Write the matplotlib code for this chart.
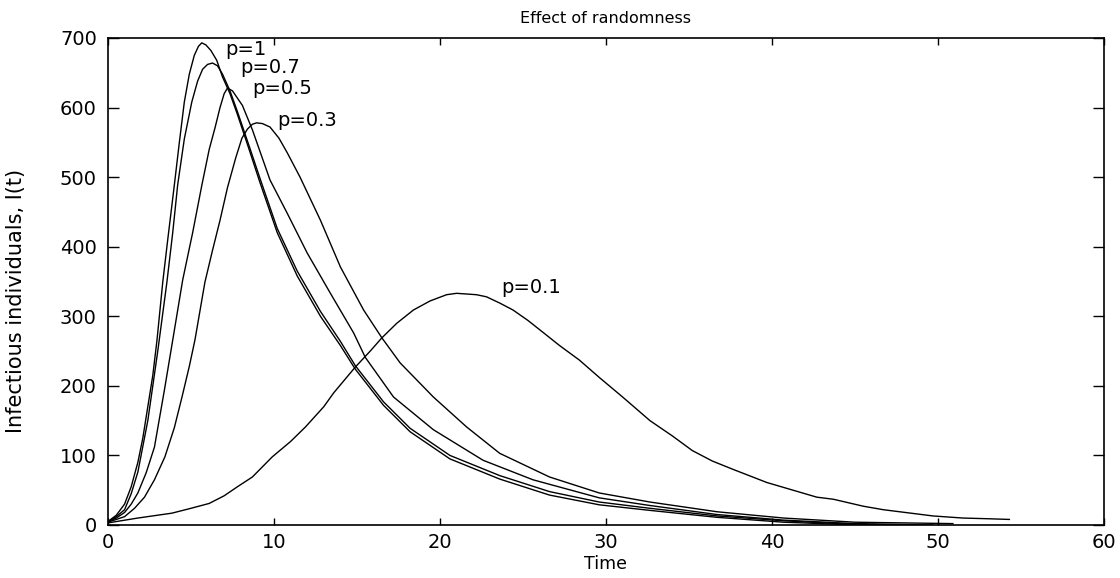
import matplotlib
matplotlib.use('Agg')
import matplotlib.pyplot as plt

# curves, one (t, I) pair of lists per p
t_p1 = [0, 0.5, 1.0, 1.4, 1.8, 2.1, 2.4, 2.7, 2.95, 3.3, 3.6, 4.0, 4.3, 4.6, 4.9,
        5.2, 5.45, 5.65, 5.9, 6.2, 6.55, 6.9, 7.35, 7.8, 8.5, 9.16, 10.2, 11.4,
        12.8, 14.0, 14.9, 16.6, 18.2, 20.6, 23.6, 26.6, 29.6, 32.65, 36.7, 40.7,
        43, 45]
i_p1 = [5, 14, 30, 55, 90, 125, 170, 215, 265, 349, 410, 489, 550, 608, 648,
        675, 688, 693, 690, 682, 668, 644, 620, 590, 540, 492, 420, 358,
        300, 258, 224, 172, 134, 95, 66, 43, 29, 21, 11, 4,
        2, 0]

t_p07 = [0, 0.5, 1.0, 1.4, 1.8, 2.4, 3.0, 3.55, 3.9, 4.2, 4.6, 5.05, 5.4, 5.7,
         6.0, 6.3, 6.6, 6.9, 7.35, 7.8, 8.5, 9.16, 10.2, 11.4, 12.8, 14.0, 14.9,
         16.6, 18.2, 20.6, 23.6, 26.6, 29.6, 32.65, 36.7, 40.7, 44, 47.5]
i_p07 = [5, 12, 22, 45, 76, 150, 250, 349, 420, 489, 555, 608, 638, 655,
         662, 664, 660, 648, 624, 594, 545, 498, 426, 365, 307, 264, 229,
         177, 139, 100, 71, 48, 33, 24, 13, 6, 2, 0]

t_p05 = [0, 0.5, 1.0, 1.4, 1.8, 2.3, 2.8, 3.4, 4.0, 4.5, 5.1, 5.66, 6.1, 6.45,
         6.75, 7.0, 7.2, 7.5, 8.1, 8.7, 9.76, 10.8, 12.0, 13.4, 14.8, 15.5, 17.2,
         19.6, 22.6, 25.6, 29.6, 32.65, 36.7, 40.7, 45, 49.7]
i_p05 = [5, 10, 18, 30, 46, 75, 112, 194, 280, 352, 420, 489, 540, 571,
         600, 620, 628, 624, 603, 568, 496, 448, 391, 333, 276, 241, 184,
         137, 93, 65, 39, 28, 15, 7, 2, 0]

t_p03 = [0, 0.5, 1.0, 1.6, 2.2, 2.8, 3.43, 4.0, 4.46, 4.9, 5.24, 5.84, 6.3, 6.75,
         7.2, 7.7, 8.07, 8.4, 8.7, 8.95, 9.3, 9.76, 10.3, 10.8, 11.57, 12.8, 14.0,
         15.4, 16.5, 17.6, 19.6, 21.6, 23.6, 26.6, 29.6, 32.65, 36.7, 40.7, 45,
         50.9]
i_p03 = [4, 8, 12, 24, 40, 65, 98, 140, 184, 228, 266, 349, 395, 438,
         485, 528, 556, 569, 576, 578, 577, 572, 556, 535, 500, 438, 371,
         309, 269, 233, 184, 141, 103, 69, 46, 33, 19, 10, 4,
         2]

t_p01 = [0, 1.8, 3.85, 5.0, 6.1, 7.0, 7.8, 8.7, 9.9, 11.0, 11.9, 13.0, 13.6,
         14.9, 15.8, 16.5, 17.4, 18.4, 19.4, 20.4, 21.0, 21.6, 22.2, 22.8, 23.6,
         24.4, 25.3, 26.2, 27.2, 28.4, 29.6, 30.2, 31.0, 32.65, 34.0, 35.2, 36.4,
         37.65, 39.7, 40.7, 42.7, 43.7, 45.5, 46.7, 47.7, 49.7, 51.5, 53, 54.3]
i_p01 = [3, 10, 17, 24, 31, 42, 55, 69, 98, 120, 141, 170, 190,
         227, 250, 269, 290, 309, 322, 331, 333, 332, 331, 328, 319,
         309, 294, 277, 258, 237, 212, 200, 184, 150, 128, 107, 92,
         80, 61, 54, 40, 37, 27, 22, 19, 13, 10, 9, 8]

labels = ['p=1', 'p=0.7', 'p=0.5', 'p=0.3', 'p=0.1']
label_x = [7.05, 7.95, 8.67, 10.2, 23.7]
label_y = [683, 657, 627, 582, 342]

xticks = [0, 10, 20, 30, 40, 50, 60]
yticks = [0, 100, 200, 300, 400, 500, 600, 700]

fig = plt.figure(figsize=(11.2, 5.78), dpi=100)
ax = fig.add_axes([0.0964, 0.0917, 0.8893, 0.8426])

for t, i in [(t_p1, i_p1), (t_p07, i_p07), (t_p05, i_p05),
             (t_p03, i_p03), (t_p01, i_p01)]:
    ax.plot(t, i, color='black', lw=1.0)

for lab, x, y in zip(labels, label_x, label_y):
    ax.text(x, y, lab, ha='left', va='center', fontsize=14)

ax.set_xlim(0, 60)
ax.set_ylim(0, 700)
ax.set_xticks(xticks)
ax.set_yticks(yticks)
ax.tick_params(direction='in', top=True, right=True, labelsize=14, width=1.0)
ax.tick_params(axis='x', length=5, pad=6)
ax.tick_params(axis='y', length=8, pad=8)
for s in ax.spines.values():
    s.set_linewidth(1.2)

ax.set_title('Effect of randomness', fontsize=11.5, pad=11)
ax.set_xlabel('Time', fontsize=12.5, labelpad=2)
ax.set_ylabel('Infectious individuals, I(t)', fontsize=15)
ax.yaxis.set_label_coords(-0.082, 0.46)

plt.savefig('out.png')
